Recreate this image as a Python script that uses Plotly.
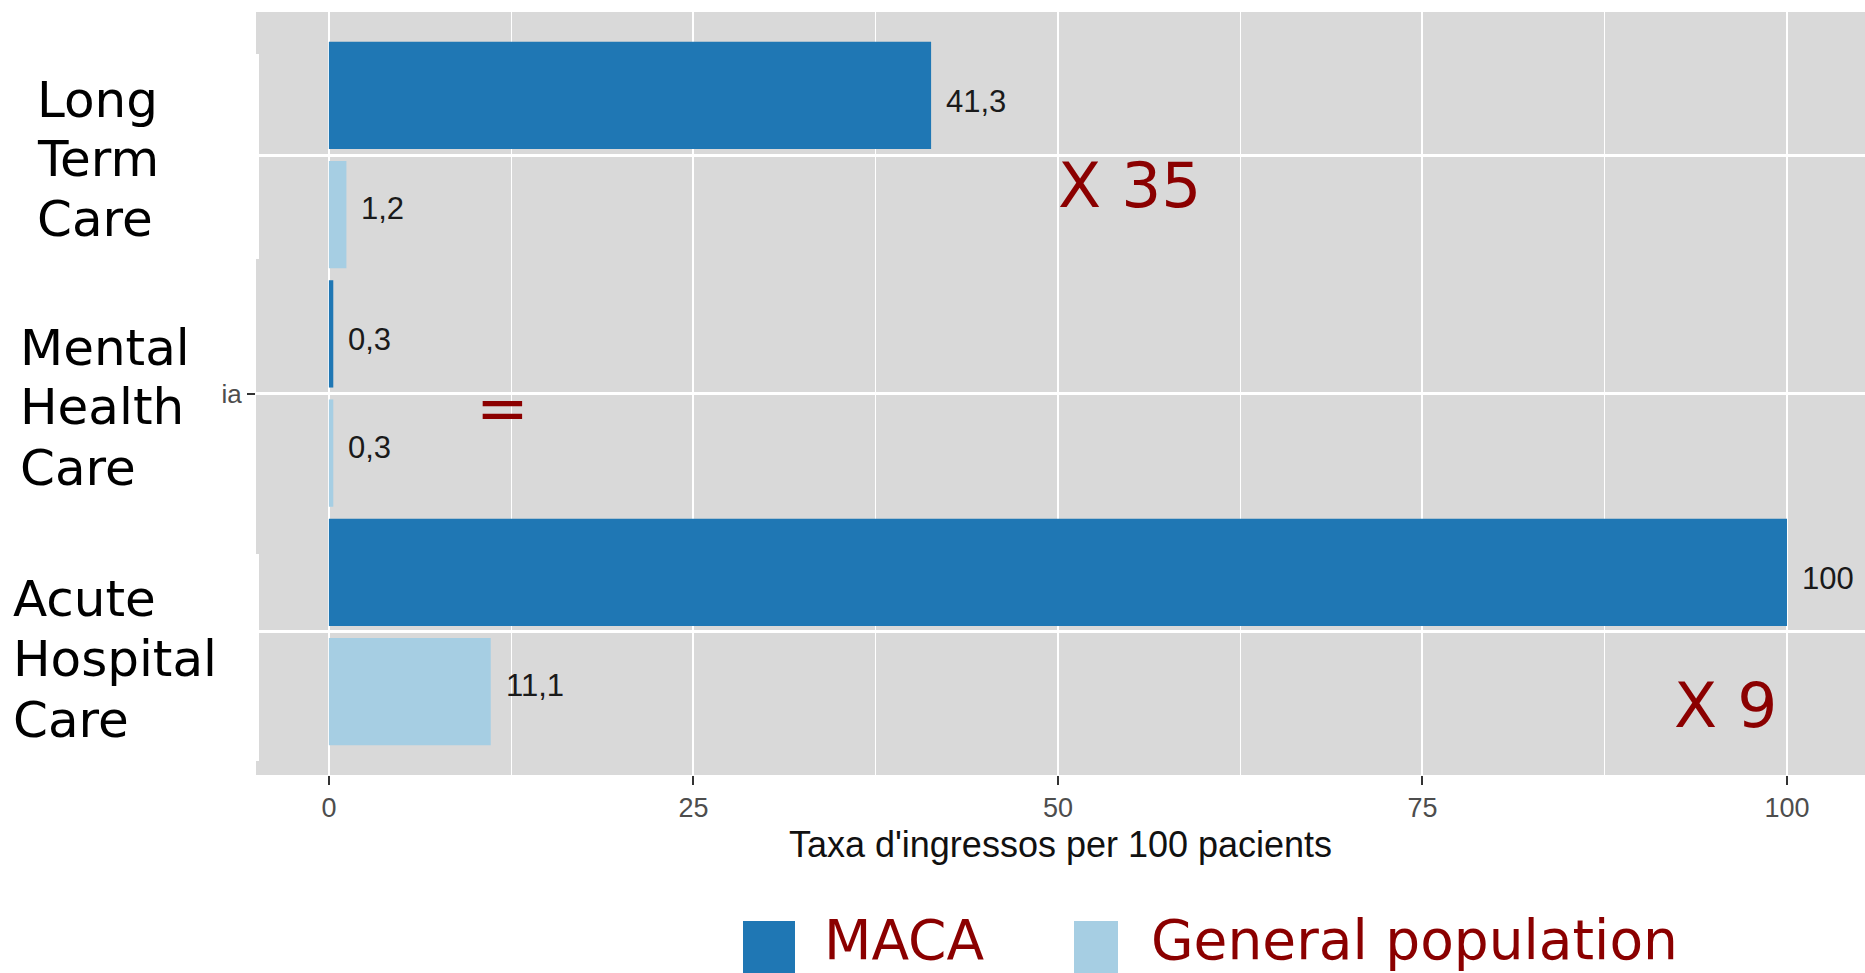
import plotly.graph_objects as go

# ---- data -------------------------------------------------------------
categories = ["Aguts", "Psiquiatria", "Sociosanitari"]          # y categories, bottom to top
category_ticktext = ["", "ia", ""]                                # only a stub of one label shows
group_labels = [["Acute", "Hospital", "Care"],
                ["Mental", "Health", "Care"],
                ["Long", "Term", "Care"]]
maca_values = [100, 0.3, 41.3]
general_values = [11.1, 0.3, 1.2]
series_names = ["MACA", "General population"]
x_ticks = [0, 25, 50, 75, 100]
ratio_notes = ["X 9", "=", "X 35"]

# ---- styling ----------------------------------------------------------
W, H = 1865, 973
ML, MR, MT, MB = 256, 0, 12, 198
C_MACA = "#1F77B4"
C_GEN = "#A6CEE3"
PANEL = "#D9D9D9"
DARK_RED = "#8B0000"
BAR_W = 0.45
GAP = 0.025
LABEL_DODGE = 0.225      # vertical offset of value labels from the category centre


def fx(px):
    """Pixel x -> paper x."""
    return (px - ML) / (W - ML - MR)


def fy(py):
    """Pixel y (from top) -> paper y."""
    return (H - MB - py) / (H - MT - MB)


def fmt(v):
    return str(int(v)) if float(v).is_integer() else f"{v:.1f}".replace(".", ",")


fig = go.Figure()
fig.add_trace(go.Bar(
    y=categories, x=maca_values, orientation="h", name=series_names[0],
    width=BAR_W, offset=GAP, marker=dict(color=C_MACA, line=dict(width=0)),
    showlegend=False, hoverinfo="x+y"))
fig.add_trace(go.Bar(
    y=categories, x=general_values, orientation="h", name=series_names[1],
    width=BAR_W, offset=-GAP - BAR_W, marker=dict(color=C_GEN, line=dict(width=0)),
    showlegend=False, hoverinfo="x+y"))

annotations = []
# value labels at the end of each bar
unit_px = (H - MT - MB) / 3.2
shift = LABEL_DODGE * unit_px
for cat, mv, gv in zip(categories, maca_values, general_values):
    for v, ys in ((mv, shift), (gv, -shift)):
        annotations.append(dict(
            x=v, y=cat, xref="x", yref="y", text=fmt(v), showarrow=False,
            xanchor="left", yanchor="middle", xshift=13, yshift=ys,
            font=dict(family="Liberation Sans, Arial", size=31, color="#1A1A1A")))

# big group labels drawn over white boxes on the left
boxes = [(0, 554, 259, 761), (0, 301, 220, 511), (18, 54, 259, 259)]
label_pos = [(11, [599, 659, 720]), (18, [348, 407, 468]), (35, [100, 159, 219])]
shapes = []
for (x0, y0, x1, y1) in boxes:
    shapes.append(dict(type="rect", xref="paper", yref="paper",
                       x0=fx(x0), x1=fx(x1), y0=fy(y1), y1=fy(y0),
                       fillcolor="white", line=dict(width=0), layer="above"))
for lines, (lx, lys) in zip(group_labels, label_pos):
    for txt, ly in zip(lines, lys):
        annotations.append(dict(
            x=fx(lx), y=fy(ly), xref="paper", yref="paper", text=txt,
            showarrow=False, xanchor="left", yanchor="middle",
            font=dict(family="DejaVu Sans", size=50, color="black")))

# ratio notes
note_pos = [(1725, 705), (502, 409), (1129, 185)]
for txt, (nx, ny) in zip(ratio_notes, note_pos):
    annotations.append(dict(
        x=fx(nx), y=fy(ny), xref="paper", yref="paper", text=txt,
        showarrow=False, xanchor="center", yanchor="middle",
        font=dict(family="DejaVu Sans", size=63, color=DARK_RED)))

# legend at the bottom
legend_items = [(series_names[0], C_MACA, 743, 795, 822),
                (series_names[1], C_GEN, 1074, 1118, 1149)]
for name, col, s0, s1, tx in legend_items:
    shapes.append(dict(type="rect", xref="paper", yref="paper",
                       x0=fx(s0), x1=fx(s1), y0=fy(H + 5), y1=fy(921),
                       fillcolor=col, line=dict(width=0), layer="above"))
    annotations.append(dict(
        x=fx(tx), y=fy(940), xref="paper", yref="paper", text=name,
        showarrow=False, xanchor="left", yanchor="middle",
        font=dict(family="DejaVu Sans", size=55, color=DARK_RED)))

fig.update_layout(
    width=W, height=H, autosize=False,
    margin=dict(l=ML, r=MR, t=MT, b=MB, pad=0),
    paper_bgcolor="white", plot_bgcolor=PANEL,
    barmode="overlay", showlegend=False,
    shapes=shapes, annotations=annotations,
    xaxis=dict(
        range=[-5.0, 105.35], tickvals=x_ticks, ticktext=[str(t) for t in x_ticks],
        showgrid=True, gridcolor="white", gridwidth=2.2,
        minor=dict(dtick=12.5, tick0=0, showgrid=True, gridcolor="white", gridwidth=1),
        zeroline=False, showline=False,
        ticks="outside", ticklen=9, tickwidth=2, tickcolor="#333333",
        tickfont=dict(family="Liberation Sans, Arial", size=27, color="#4D4D4D"),
        title=dict(text="Taxa d'ingressos per 100 pacients", standoff=9,
                   font=dict(family="Liberation Sans, Arial", size=36, color="#111111")),
    ),
    yaxis=dict(
        type="category", categoryorder="array", categoryarray=categories,
        tickvals=categories, ticktext=category_ticktext,
        range=[-0.6, 2.6], showgrid=True, gridcolor="white", gridwidth=2.5,
        zeroline=False, showline=False,
        ticks="outside", ticklen=8, tickwidth=2, tickcolor="#333333",
        tickfont=dict(family="Liberation Sans, Arial", size=26, color="#4D4D4D"),
    ),
)

fig.write_html("out.html")
